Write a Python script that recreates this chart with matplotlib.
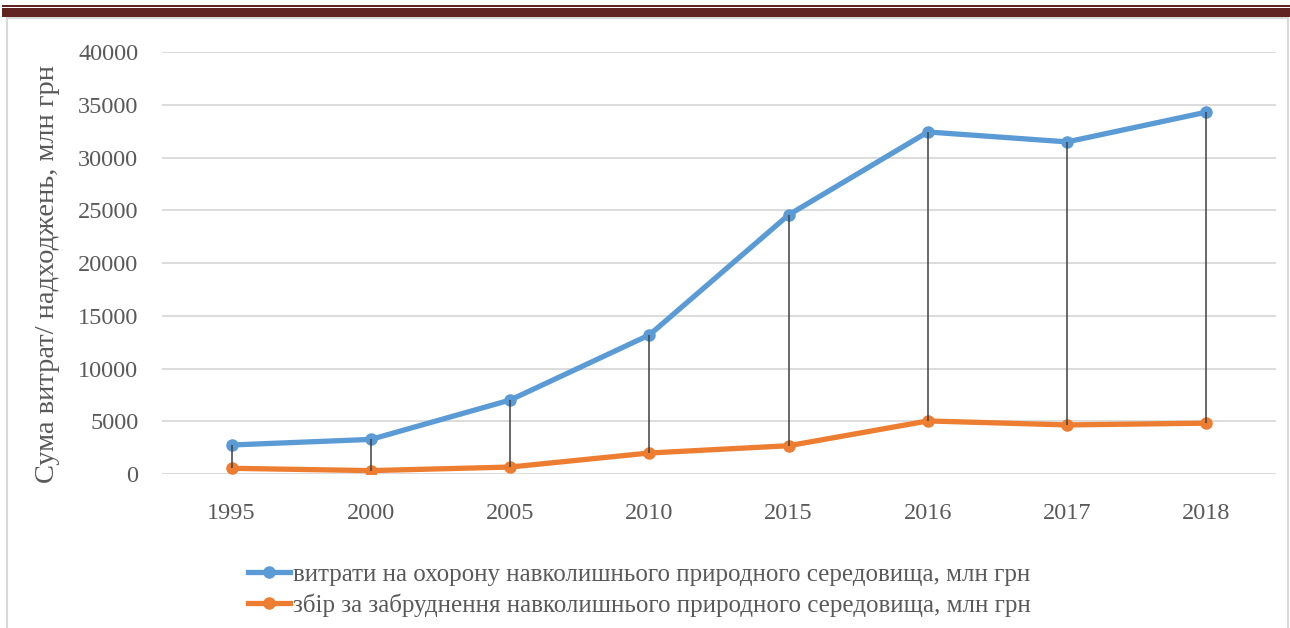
import numpy as np
import matplotlib.pyplot as plt
from matplotlib.patches import Rectangle
from matplotlib.lines import Line2D

years = ["1995", "2000", "2005", "2010", "2015", "2016", "2017", "2018"]
spending = [2750, 3280, 7010, 13180, 24560, 32420, 31480, 34300]
pollution_fee = [540, 320, 660, 1990, 2680, 5030, 4650, 4820]
spending_label = "витрати на охорону навколишнього природного середовища, млн грн"
fee_label = "збір за забруднення навколишнього природного середовища, млн грн"
y_label = "Сума витрат/ надходжень, млн грн"

W, H = 1290, 628
plt.rcParams["font.family"] = ["Liberation Serif", "DejaVu Serif"]
text_color = "#595959"
blue = "#5B9BD5"
orange = "#ED7D31"

fig = plt.figure(figsize=(W / 100, H / 100), dpi=100)
ax = fig.add_axes([162 / W, 1 - 474 / H, (1276 - 162) / W, (474 - 52) / H])

x = np.arange(len(years))
ax.plot(x, spending, color=blue, lw=3.8, marker="o", ms=8, solid_capstyle="round", zorder=3)
ax.plot(x, pollution_fee, color=orange, lw=3.8, marker="o", ms=8, solid_capstyle="round", zorder=3)
ax.vlines(x, pollution_fee, spending, color="#404040", lw=1.1, zorder=4)

ax.set_xlim(-0.5, len(years) - 0.5)
ax.set_ylim(0, 40000)
ax.set_yticks(np.arange(0, 40001, 5000))
ax.set_xticks(x)
ax.set_xticklabels(years)
ax.yaxis.grid(True, color="#D9D9D9", lw=1.3)
ax.set_axisbelow(True)
for s in ax.spines.values():
    s.set_visible(False)
ax.tick_params(axis="both", length=0, labelsize=17.5, colors=text_color)
ax.tick_params(axis="y", pad=17)
ax.tick_params(axis="x", pad=21)
ax.set_ylabel(y_label, fontsize=20.5, color=text_color)
ax.yaxis.set_label_coords(-0.092, 0.475)

handles = [
    Line2D([], [], color=blue, lw=3.8, marker="o", ms=8),
    Line2D([], [], color=orange, lw=3.8, marker="o", ms=8),
]
fig.legend(handles, [spending_label, fee_label], loc="center", bbox_to_anchor=(639 / W, 1 - 590 / H),
           frameon=False, fontsize=18, labelcolor=text_color, handlelength=1.7,
           handletextpad=0.1, labelspacing=0.32, borderpad=0)

# outer frame and decorative top bar
fig.add_artist(Rectangle((7 / W, -0.01), (1288 - 7) / W, 1 - 18 / H + 0.01, transform=fig.transFigure,
                         fill=False, edgecolor="#D9D9D9", lw=1.5))
fig.add_artist(Rectangle((2 / W, 1 - 17 / H), 1, 9 / H, transform=fig.transFigure,
                         facecolor="#622323", edgecolor="none"))
fig.add_artist(Rectangle((2 / W, 1 - 6.7 / H), 1, 1.7 / H, transform=fig.transFigure,
                         facecolor="#622323", edgecolor="none"))

fig.savefig("out.png", dpi=100)
